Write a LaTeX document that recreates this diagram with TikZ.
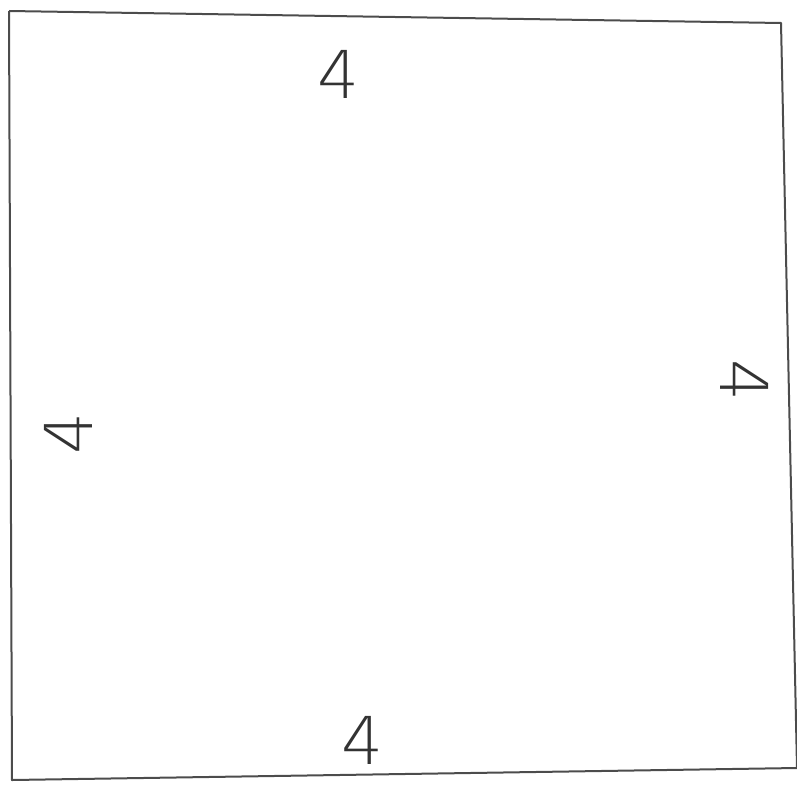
\documentclass[tikz,border=0pt]{standalone}
\usepackage{fontspec}
\newfontfamily\handfont{DejaVu Sans ExtraLight}
\begin{document}
\begin{tikzpicture}[x=1pt,y=-1pt,
  edge/.style={draw=black!70,line width=2pt,line join=round},
  side/.style={font=\handfont\fontsize{66}{66}\selectfont,text=black!80,inner sep=0pt}]
\useasboundingbox (0,0) rectangle (797,784);
\coordinate (tl) at (9,11);
\coordinate (tr) at (781,23);
\coordinate (br) at (797,768);
\coordinate (bl) at (12,780);
\draw[edge] (tl) -- (tr) -- (br);
\draw[edge] (tl) -- (bl) -- (br);
\node[side] (top) at (338,74) {4};
\node[side,rotate=90] (left) at (68,433) {4};
\node[side,rotate=-90] (right) at (745,380) {4};
\node[side] (bottom) at (362,740) {4};
\end{tikzpicture}
\end{document}
